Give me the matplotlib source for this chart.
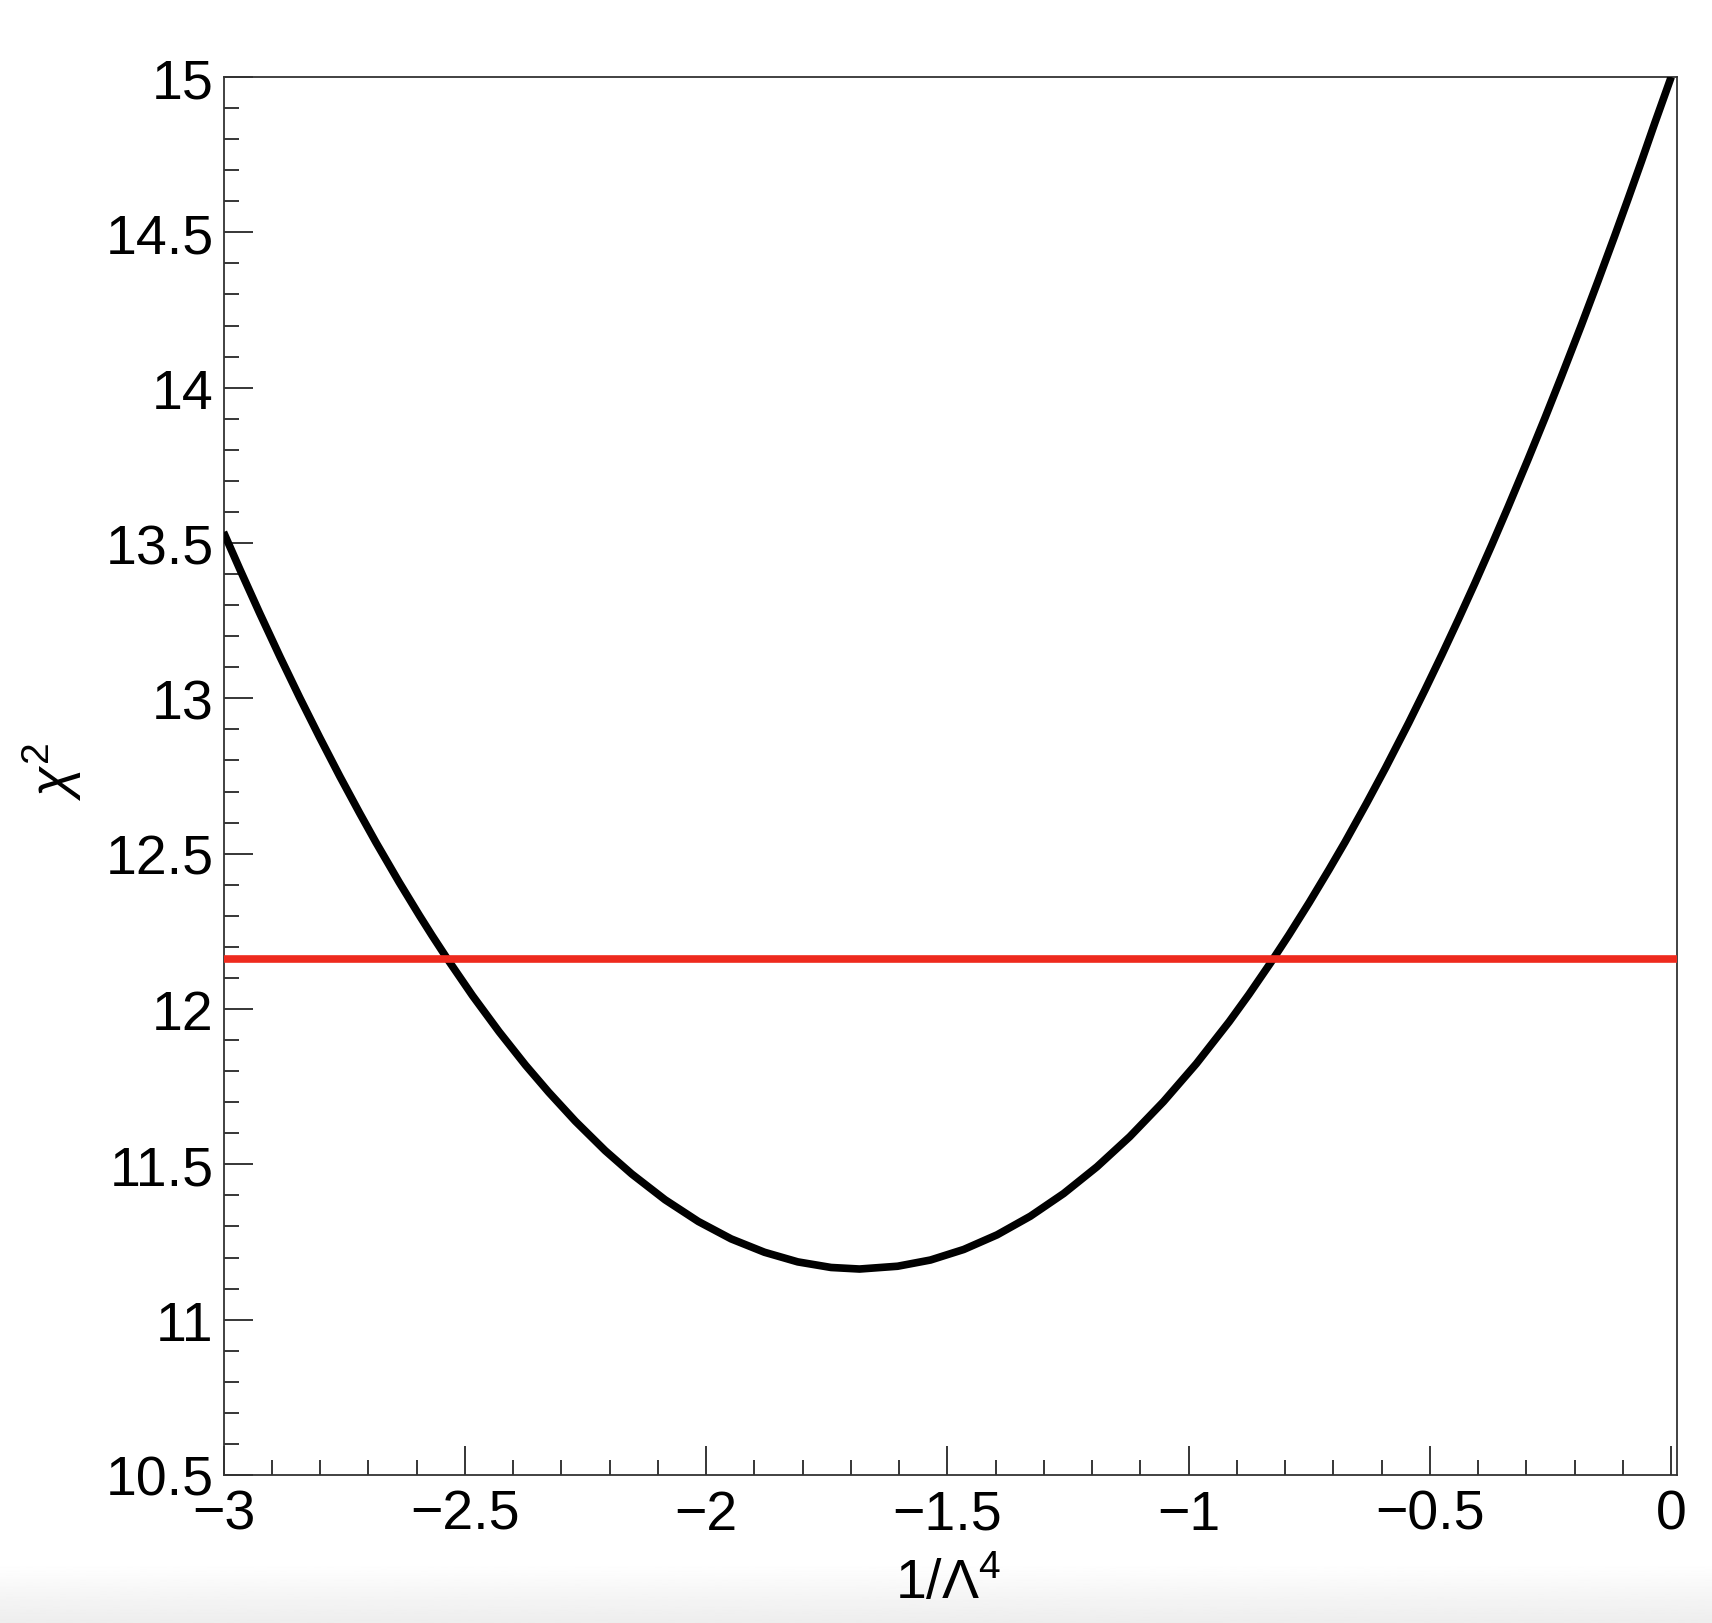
import numpy as np
import matplotlib
matplotlib.use("Agg")
import matplotlib.pyplot as plt
from matplotlib.ticker import MultipleLocator, FixedLocator

plt.rcParams['font.family'] = ['Liberation Sans', 'DejaVu Sans']
plt.rcParams['mathtext.fontset'] = 'custom'
plt.rcParams['mathtext.rm'] = 'Liberation Sans'
plt.rcParams['mathtext.it'] = 'Liberation Sans:italic'
plt.rcParams['mathtext.bf'] = 'Liberation Sans:bold'

# chi^2 scan values
inv_lambda4 = [-3.0, -2.966, -2.925, -2.883, -2.842, -2.801, -2.759, -2.718,
               -2.684, -2.636, -2.594, -2.568, -2.536, -2.484, -2.429, -2.374,
               -2.326, -2.271, -2.209, -2.154, -2.085, -2.016, -1.948, -1.879,
               -1.810, -1.741, -1.682, -1.603, -1.535, -1.466, -1.397, -1.328,
               -1.259, -1.190, -1.122, -1.052, -0.984, -0.916, -0.875, -0.830,
               -0.792, -0.750, -0.709, -0.676, -0.631, -0.592, -0.544, -0.510,
               -0.475, -0.441, -0.407, -0.372, -0.338, -0.297, -0.262, -0.228,
               -0.186, -0.152, -0.117, -0.090, -0.062, -0.034, 0.0]
chi2 = [13.535, 13.415, 13.274, 13.134, 13.002, 12.875, 12.749, 12.631,
        12.536, 12.408, 12.301, 12.237, 12.161, 12.043, 11.927, 11.819,
        11.732, 11.639, 11.544, 11.469, 11.386, 11.316, 11.260, 11.217,
        11.186, 11.168, 11.163, 11.172, 11.192, 11.226, 11.273, 11.333,
        11.406, 11.492, 11.589, 11.702, 11.824, 11.959, 12.047, 12.149,
        12.239, 12.343, 12.449, 12.537, 12.663, 12.776, 12.921, 13.028,
        13.141, 13.254, 13.370, 13.493, 13.616, 13.768, 13.901, 14.034,
        14.202, 14.342, 14.489, 14.605, 14.727, 14.852, 15.0]
threshold = 12.16

xlim = (-3.0, 0.012)
ylim = (10.5, 15.0)
x_major = [-3, -2.5, -2, -1.5, -1, -0.5, 0]
x_labels = ['\u22123', '\u22122.5', '\u22122', '\u22121.5', '\u22121', '\u22120.5', '0']
y_major = [10.5, 11, 11.5, 12, 12.5, 13, 13.5, 14, 14.5, 15]
y_labels = ['10.5', '11', '11.5', '12', '12.5', '13', '13.5', '14', '14.5', '15']

fig = plt.figure(figsize=(17.12, 16.24), dpi=100)
fig.patch.set_facecolor('white')
ax = fig.add_axes([223.5/1712, 1 - 1476/1624, (1677-223.5)/1712, (1476-78)/1624])

ax.plot(inv_lambda4, chi2, color='black', lw=5.5, solid_capstyle='butt',
        solid_joinstyle='round', zorder=3)
ax.axhline(threshold, color='#ee2a1e', lw=5.5, zorder=4)

ax.set_xlim(*xlim)
ax.set_ylim(*ylim)

ax.xaxis.set_major_locator(FixedLocator(x_major))
ax.set_xticklabels(x_labels)
ax.xaxis.set_minor_locator(MultipleLocator(0.1))
ax.yaxis.set_major_locator(FixedLocator(y_major))
ax.set_yticklabels(y_labels)
ax.yaxis.set_minor_locator(MultipleLocator(0.1))

ax.tick_params(which='both', direction='in', top=False, right=False,
               width=1.1, color='black')
ax.tick_params(which='major', length=21, labelsize=40, pad=7)
ax.tick_params(axis='x', which='major', pad=10)
ax.tick_params(which='minor', length=11)

for sp in ax.spines.values():
    sp.set_linewidth(1.3)
    sp.set_color('#333333')

fig.text(948/1712, 1 - 1584/1624, r'$\mathrm{1/\Lambda^{4}}$', fontsize=40,
         ha='center', va='center')
fig.text(52/1712, 1 - 772/1624, r'$\chi^{2}$', fontsize=40, rotation=90,
         ha='center', va='center')

# light grey band at the very bottom of the screenshot
gax = fig.add_axes([0, 0, 1, 60/1624])
grad = np.linspace(1.0, 0.93, 64).reshape(-1, 1)
gax.imshow(grad, aspect='auto', cmap='gray', vmin=0, vmax=1,
           extent=[0, 1, 0, 1], origin='upper')
gax.set_axis_off()
gax.set_zorder(-1)

fig.savefig('out.png', dpi=100, facecolor='white')
